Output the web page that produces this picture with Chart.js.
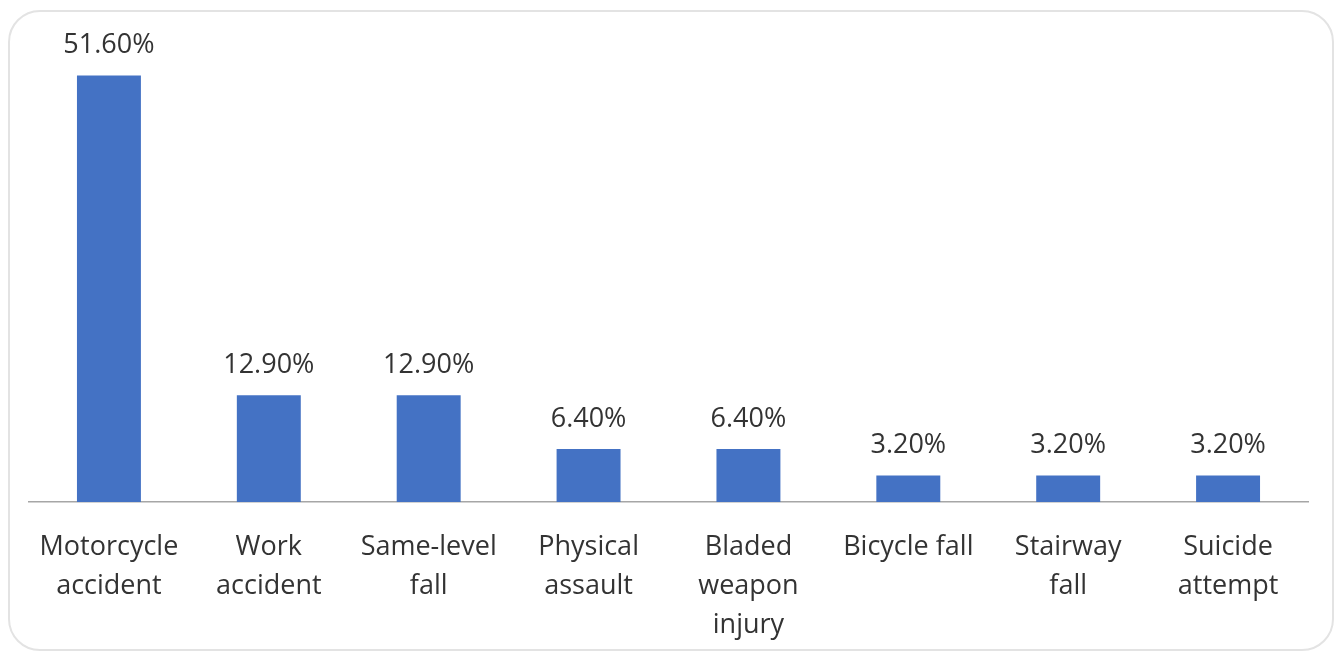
<!DOCTYPE html>
<html>
<head>
<meta charset="utf-8">
<script src="https://cdn.jsdelivr.net/npm/chart.js@4.4.0/dist/chart.umd.min.js"></script>
<style>
  html, body { margin: 0; padding: 0; background: #fff; }
  .frame {
    position: absolute; left: 8px; top: 10px; width: 1326px; height: 641px;
    box-sizing: border-box; border: 2px solid #e3e3e3; border-radius: 32px;
  }
  .chart { position: absolute; left: 0; top: 0; width: 1340px; height: 652px; }
</style>
</head>
<body>
<div class="frame"></div>
<div class="chart"><canvas id="barChart"></canvas></div>
<script>
const categories = [
  ["Motorcycle", "accident"],
  ["Work", "accident"],
  ["Same-level", "fall"],
  ["Physical", "assault"],
  ["Bladed", "weapon", "injury"],
  ["Bicycle fall"],
  ["Stairway", "fall"],
  ["Suicide", "attempt"],
];
const percents = [51.6, 12.9, 12.9, 6.4, 6.4, 3.2, 3.2, 3.2];

const textColor = "#333333";
const fontFamily = "'Open Sans', 'Liberation Sans', sans-serif";

const barLabels = {
  id: "barLabels",
  afterDatasetsDraw(chart) {
    const ctx = chart.ctx;
    const meta = chart.getDatasetMeta(0);
    ctx.save();
    ctx.fillStyle = textColor;
    ctx.font = `27px ${fontFamily}`;
    ctx.textAlign = "center";
    ctx.textBaseline = "middle";
    meta.data.forEach((bar, i) => {
      ctx.fillText(percents[i].toFixed(2) + "%", bar.x, bar.y - 30);
    });
    ctx.restore();
  },
};

const ctx = document.getElementById("barChart").getContext("2d");
new Chart(ctx, {
  type: "bar",
  data: {
    labels: categories,
    datasets: [
      {
        data: percents,
        backgroundColor: "#4472C4",
        barPercentage: 0.4,
        categoryPercentage: 1,
      },
    ],
  },
  options: {
    responsive: true,
    maintainAspectRatio: false,
    animation: false,
    layout: {
      padding: { left: 29, right: 32, top: 6, bottom: 0 },
    },
    plugins: {
      legend: { display: false },
      tooltip: { enabled: false },
    },
    scales: {
      x: {
        grid: { display: false },
        border: { display: true, color: "#a6a6a6", width: 1.5 },
        afterFit(scale) {
          scale.height = 150;
        },
        ticks: {
          color: textColor,
          padding: 18,
          maxRotation: 0,
          autoSkip: false,
          font: { family: fontFamily, size: 27, lineHeight: 1.445 },
        },
      },
      y: {
        display: false,
        min: 0,
        max: 60,
      },
    },
  },
  plugins: [barLabels],
});
</script>
</body>
</html>
